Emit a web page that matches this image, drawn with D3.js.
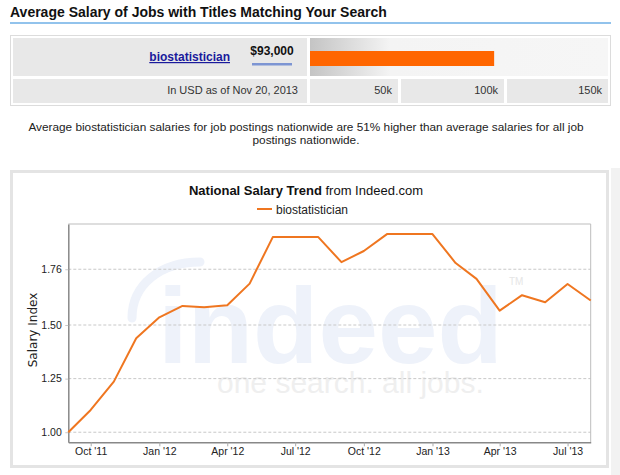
<!DOCTYPE html>
<html>
<head>
<meta charset="utf-8">
<script src="https://cdn.jsdelivr.net/npm/d3@7"></script>
<style>
  body { margin: 0; background: #fff; }
  svg { display: block; }
</style>
</head>
<body>
<svg id="chart" width="620" height="475"></svg>
<script>
// salary box data
const jobTitle = "biostatistician"
const avgSalary = 93000
const salaryTicks = [50000, 100000, 150000]
const salaryTickLabels = ["50k", "100k", "150k"]
const asOfText = "In USD as of Nov 20, 2013"

// trend data (monthly salary index)
const months = ["2011-09","2011-10","2011-11","2011-12","2012-01","2012-02","2012-03","2012-04",
                "2012-05","2012-06","2012-07","2012-08","2012-09","2012-10","2012-11","2012-12",
                "2013-01","2013-02","2013-03","2013-04","2013-05","2013-06","2013-07","2013-08"]
const salaryIndex = [1.000, 1.104, 1.236, 1.438, 1.536, 1.589, 1.583, 1.592,
                     1.693, 1.910, 1.910, 1.910, 1.793, 1.845, 1.924, 1.924,
                     1.924, 1.789, 1.715, 1.567, 1.639, 1.606, 1.691, 1.614]
const yTicks = [1.00, 1.25, 1.50, 1.76]
const xTickMonths = ["2011-10","2012-01","2012-04","2012-07","2012-10","2013-01","2013-04","2013-07"]

const parseMonth = d3.timeParse("%Y-%m")
const trend = months.map((m, i) => ({date: parseMonth(m), value: salaryIndex[i]}))

const svg = d3.select("#chart")
const font = "'Liberation Sans', Arial, sans-serif"

// ---- header ----
svg.append("text")
    .attr("x", 10).attr("y", 17)
    .style("font", `bold 14px ${font}`)
    .attr("fill", "#111")
    .text("Average Salary of Jobs with Titles Matching Your Search")
svg.append("rect").attr("x", 10).attr("y", 22).attr("width", 601).attr("height", 2).attr("fill", "#92c3ec")

// ---- salary table ----
const sx = d3.scaleLinear().domain([0, 150000]).range([310, 607])

svg.append("rect").attr("x", 10.5).attr("y", 35.5).attr("width", 600).attr("height", 70)
    .attr("fill", "#fff").attr("stroke", "#dcdcdc")

const defs = svg.append("defs")
const grad = defs.append("linearGradient").attr("id", "fade").attr("x1", 0).attr("x2", 1).attr("y1", 0).attr("y2", 0)
grad.append("stop").attr("offset", 0).attr("stop-color", "#c4c4c4")
grad.append("stop").attr("offset", 0.27).attr("stop-color", "#f4f4f4")
grad.append("stop").attr("offset", 1).attr("stop-color", "#f6f6f6")

svg.append("rect").attr("x", 13).attr("y", 38).attr("width", 294).attr("height", 38).attr("fill", "#e8e8e8")
svg.append("rect").attr("x", 310).attr("y", 38).attr("width", 298).attr("height", 38).attr("fill", "url(#fade)")
svg.append("rect").attr("x", 13).attr("y", 79).attr("width", 294).attr("height", 24).attr("fill", "#e8e8e8")

// tick cells under the bar
const cellEdges = [[310, 398], [401, 504], [507, 608]]
svg.append("g").selectAll("rect")
    .data(salaryTicks)
    .join("rect")
    .attr("x", (d, i) => cellEdges[i][0])
    .attr("y", 79)
    .attr("width", (d, i) => cellEdges[i][1] - cellEdges[i][0])
    .attr("height", 24)
    .attr("fill", "#e8e8e8")
svg.append("g").selectAll("text")
    .data(salaryTicks)
    .join("text")
    .attr("x", (d, i) => cellEdges[i][1] - 6)
    .attr("y", 94)
    .attr("text-anchor", "end")
    .style("font", `11px ${font}`)
    .attr("fill", "#333")
    .text((d, i) => salaryTickLabels[i])

svg.append("text").attr("x", 298).attr("y", 94).attr("text-anchor", "end")
    .style("font", `11px ${font}`).attr("fill", "#333").text(asOfText)

// salary bar
svg.append("rect")
    .attr("x", sx(0)).attr("y", 51)
    .attr("width", sx(avgSalary) - sx(0)).attr("height", 15)
    .attr("fill", "#ff6600")

svg.append("text").attr("x", 230).attr("y", 61).attr("text-anchor", "end")
    .style("font", `bold 12px ${font}`).attr("fill", "#1a1a9c")
    .attr("text-decoration", "underline").text(jobTitle)
svg.append("text").attr("x", 272).attr("y", 55).attr("text-anchor", "middle")
    .style("font", `bold 12px ${font}`).attr("fill", "#111").text(d3.format("$,")(avgSalary))
svg.append("rect").attr("x", 252).attr("y", 63).attr("width", 40).attr("height", 2.5).attr("fill", "#7d95d3")

// ---- paragraph ----
const para = svg.append("text").attr("text-anchor", "middle").style("font", `11.8px ${font}`).attr("fill", "#222")
para.append("tspan").attr("x", 306).attr("y", 130.5)
    .text("Average biostatistician salaries for job postings nationwide are 51% higher than average salaries for all job")
para.append("tspan").attr("x", 306).attr("y", 144).text("postings nationwide.")

// ---- chart panel ----
svg.append("rect").attr("x", 611).attr("y", 168).attr("width", 9).attr("height", 307).attr("fill", "#f2f2f2")
svg.append("rect").attr("x", 11.5).attr("y", 171.5).attr("width", 596).attr("height", 295)
    .attr("fill", "#fff").attr("stroke", "#e4e4e4").attr("stroke-width", 3)

const plot = {left: 68.3, right: 590.7, top: 224, bottom: 442.3}

const x = d3.scaleTime()
    .domain(d3.extent(trend, d => d.date))
    .range([plot.left, plot.right])
const y = d3.scaleLinear()
    .domain([0.953, 1.971])
    .range([plot.bottom, plot.top])

// watermark
const wm = svg.append("g")
wm.append("path")
    .attr("d", "M132,318 C132,285 160,262 200,262")
    .attr("fill", "none").attr("stroke", "#eef2fa").attr("stroke-width", 9).attr("stroke-linecap", "round")
wm.append("text").attr("x", 158).attr("y", 363)
    .style("font", `bold 107px ${font}`).attr("fill", "#eef2fa").text("indeed")
wm.append("text").attr("x", 217).attr("y", 393)
    .style("font", `30px ${font}`).attr("fill", "#efefef").text("one search. all jobs.")
wm.append("text").attr("x", 509).attr("y", 285)
    .style("font", `10px ${font}`).attr("fill", "#e6e6e6").text("TM")

// grid
svg.append("g").selectAll("line")
    .data(yTicks)
    .join("line")
    .attr("x1", plot.left).attr("x2", plot.right)
    .attr("y1", d => y(d)).attr("y2", d => y(d))
    .attr("stroke", "#c8c8c8").attr("stroke-dasharray", "3,2")

// frame top / right
svg.append("path")
    .attr("d", `M${plot.left},${plot.top}H${plot.right}V${plot.bottom}`)
    .attr("fill", "none").attr("stroke", "#bdbdbd")

// axes
const yAxis = svg.append("g")
    .attr("transform", `translate(${plot.left},0)`)
    .call(d3.axisLeft(y).tickValues(yTicks).tickFormat(d3.format(".2f")).tickSizeInner(5).tickSizeOuter(0).tickPadding(1.5))
yAxis.select(".domain").attr("stroke", "#888").attr("stroke-width", 1.5)
yAxis.selectAll(".tick line").attr("stroke", "#c8c8c8").attr("stroke-dasharray", "3,2")
yAxis.selectAll("text").style("font", `10.5px ${font}`).attr("fill", "#222")

const xAxis = svg.append("g")
    .attr("transform", `translate(0,${plot.bottom})`)
    .call(d3.axisBottom(x).tickValues(xTickMonths.map(parseMonth)).tickFormat(d3.timeFormat("%b '%y")).tickSizeInner(4).tickSizeOuter(0).tickPadding(1.2))
xAxis.select(".domain").attr("stroke", "#888").attr("stroke-width", 1.5)
xAxis.selectAll(".tick line").attr("stroke", "#aaa")
xAxis.selectAll("text").style("font", `10.5px ${font}`).attr("fill", "#222")

svg.append("text")
    .attr("transform", "translate(37,330) rotate(-90)")
    .attr("text-anchor", "middle")
    .style("font", `12px 'DejaVu Sans', sans-serif`).attr("fill", "#222")
    .text("Salary Index")

// line
svg.append("path")
    .datum(trend)
    .attr("d", d3.line().x(d => x(d.date)).y(d => y(d.value)))
    .attr("fill", "none").attr("stroke", "#ef7620").attr("stroke-width", 2).attr("stroke-linejoin", "round")

// title + legend
const title = svg.append("text").attr("x", 306).attr("y", 195).attr("text-anchor", "middle")
    .style("font", `13px ${font}`).attr("fill", "#111")
title.append("tspan").attr("font-weight", "bold").text("National Salary Trend")
title.append("tspan").text(" from Indeed.com")

svg.append("line").attr("x1", 257).attr("x2", 272).attr("y1", 209).attr("y2", 209)
    .attr("stroke", "#ef7620").attr("stroke-width", 2)
svg.append("text").attr("x", 276).attr("y", 213.5)
    .style("font", `12px ${font}`).attr("fill", "#222").text(jobTitle)
</script>
</body>
</html>
